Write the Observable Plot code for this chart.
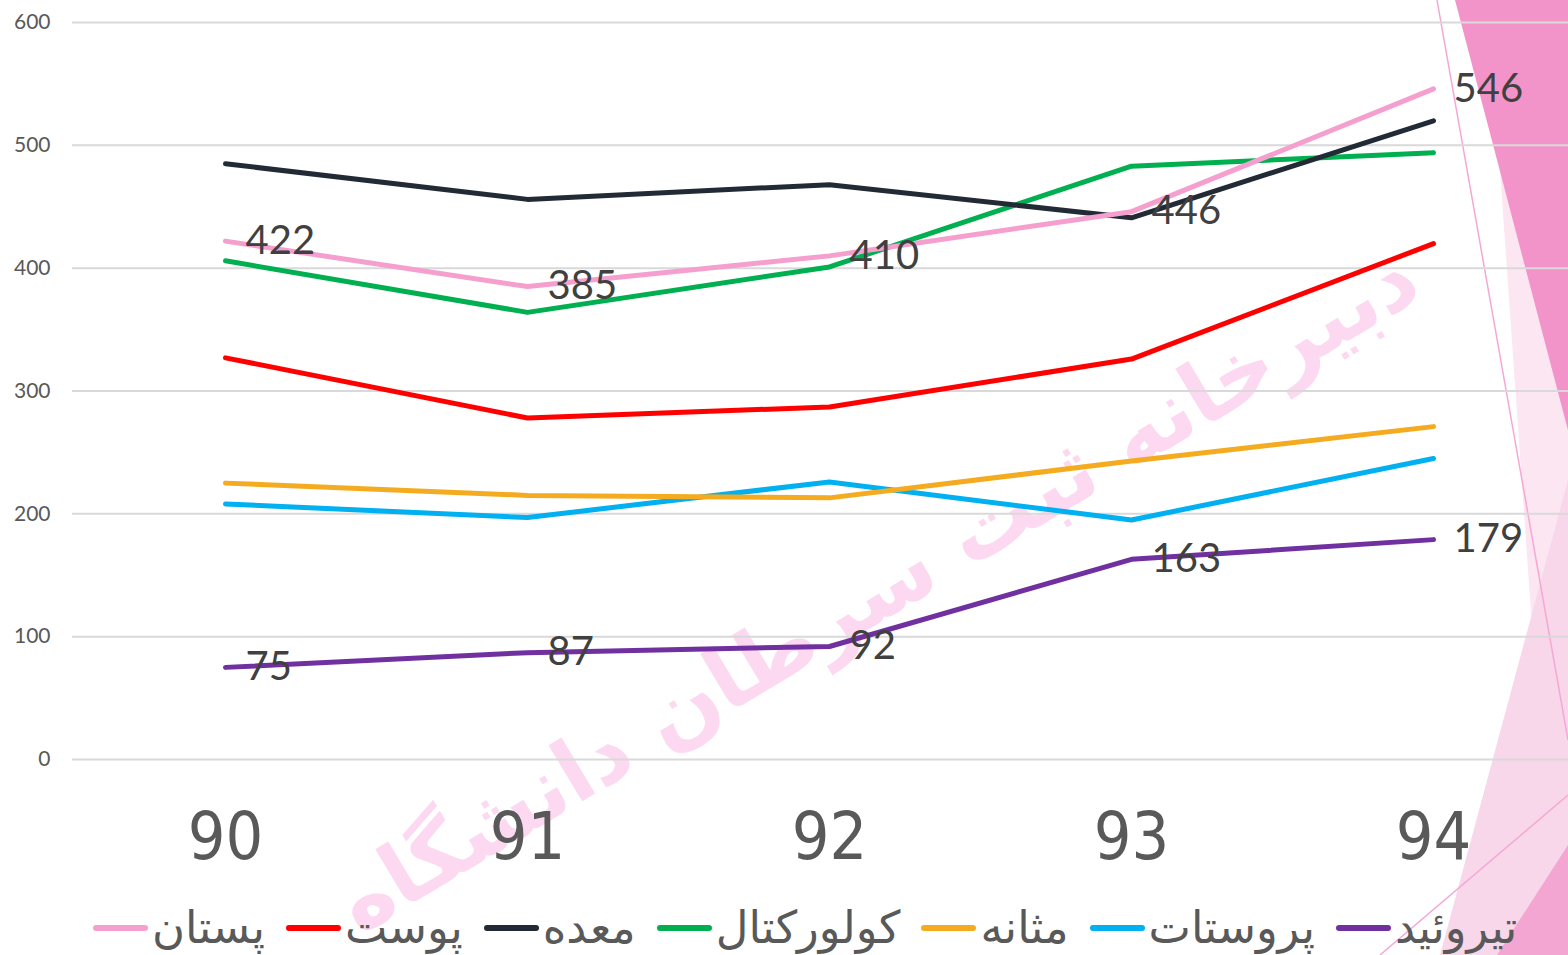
<!DOCTYPE html>
<html>
<head>
<meta charset="utf-8">
<script src="https://cdn.jsdelivr.net/npm/d3@7"></script>
<script src="https://cdn.jsdelivr.net/npm/@observablehq/plot@0.6"></script>
<style>
  body { margin: 0; background: #fff; }
  #wrap { position: relative; width: 1568px; height: 955px; overflow: hidden; background: #fff; }
  #deco, #chart, #legend { position: absolute; left: 0; top: 0; }
  #legend { top: 902px; left: 93px; height: 52px; line-height: 52px; display: flex; align-items: center;
            font-family: "DejaVu Sans", sans-serif; font-size: 45px; color: #595959; white-space: nowrap; }
  .item { display: flex; align-items: center; margin-right: 21px; }
  .sw { width: 55px; height: 6px; border-radius: 3px; margin-right: 4px; }
</style>
</head>
<body>
<div id="wrap">
  <svg id="deco" width="1568" height="955"></svg>
  <div id="chart"></div>
  <div id="legend"></div>
</div>
<script>
const years = ["90", "91", "92", "93", "94"];
const seriesNames = ["پستان", "پوست", "معده", "کولورکتال", "مثانه", "پروستات", "تیروئید"];
const seriesColors = ["#f59fcf", "#ff0000", "#222a35", "#00b050", "#f4ab1f", "#00b0f0", "#7030a0"];
const pestan = [422, 385, 410, 446, 546];
const poost = [327, 278, 287, 326, 420];
const meade = [485, 456, 468, 441, 520];
const colorectal = [406, 364, 401, 483, 494];
const masane = [225, 215, 213, 243, 271];
const prostate = [208, 197, 226, 195, 245];
const tiroid = [75, 87, 92, 163, 179];
const yTicks = [0, 100, 200, 300, 400, 500, 600];
const labeledSeries = ["پستان", "تیروئید"];
const watermark = "دبیرخانه ثبت سرطان دانشگاه";

const allValues = [pestan, poost, meade, colorectal, masane, prostate, tiroid];
const rows = [];
seriesNames.forEach((s, i) => years.forEach((yr, j) => rows.push({series: s, year: yr, value: allValues[i][j]})));
const drawOrder = ["تیروئید", "پروستات", "مثانه", "کولورکتال", "پوست", "معده", "پستان"];
const drawRows = drawOrder.flatMap(s => rows.filter(r => r.series === s));
const labelRows = rows.filter(r => labeledSeries.includes(r.series));

// decoration (background shapes + watermark)
const deco = d3.select("#deco");
deco.append("polygon").attr("points", "1500,170 1568,360 1568,955 1555,955").attr("fill", "#fbe6f2");
deco.append("polygon").attr("points", "1568,480 1568,955 1440,955").attr("fill", "#f8d7eb");
deco.append("polygon").attr("points", "1500,170 1568,380 1568,430").attr("fill", "#f6bfdf");
deco.append("polygon").attr("points", "1455,0 1568,0 1568,430").attr("fill", "#f294c9");
deco.append("polygon").attr("points", "1568,845 1568,955 1497,955").attr("fill", "#f3a6d2");
deco.append("line").attr("x1", 1437).attr("y1", 0).attr("x2", 1568).attr("y2", 740).attr("stroke", "#f5a8d4").attr("stroke-width", 1.5);
deco.append("line").attr("x1", 1380).attr("y1", 955).attr("x2", 1568).attr("y2", 795).attr("stroke", "#f5a8d4").attr("stroke-width", 1.5);
deco.append("text")
  .attr("x", 0).attr("y", 0)
  .attr("transform", "translate(880,595) rotate(-31)")
  .attr("text-anchor", "middle")
  .attr("dominant-baseline", "middle")
  .attr("direction", "rtl")
  .attr("font-family", "DejaVu Sans")
  .attr("font-weight", "bold")
  .attr("font-size", 86)
  .attr("fill", "#fcd9f1")
  .text(watermark);

const chart = Plot.plot({
  width: 1568,
  height: 880,
  marginLeft: 72,
  marginRight: 0,
  marginTop: 22,
  marginBottom: 121,
  style: {background: "transparent", overflow: "visible"},
  x: {type: "point", domain: years, range: [224, 1434], padding: 0},
  y: {domain: [0, 600]},
  color: {domain: seriesNames, range: seriesColors},
  marks: [
    Plot.gridY(yTicks, {stroke: "#d9d9d9", strokeOpacity: 1, strokeWidth: 2}),
    Plot.axisY(yTicks, {tickSize: 0, tickPadding: 22, fontSize: 21, color: "#595959", fontFamily: "Lato, 'Open Sans', sans-serif", label: null}),
    Plot.axisX({tickSize: 0, tickPadding: 53, fontSize: 66, color: "#595959", fontFamily: "'Liberation Sans Narrow', 'DejaVu Sans Condensed', sans-serif", label: null}),
    Plot.line(drawRows, {x: "year", y: "value", z: "series", stroke: "series", strokeWidth: 5, strokeLinecap: "round", strokeLinejoin: "round"}),
    Plot.text(labelRows, {x: "year", y: "value", text: d => String(d.value), textAnchor: "start", dx: 20, fontSize: 40, fill: "#404040", fontFamily: "Lato, 'Open Sans', sans-serif"})
  ]
});
document.getElementById("chart").appendChild(chart);

// legend
const legend = d3.select("#legend");
seriesNames.forEach((s, i) => {
  const it = legend.append("div").attr("class", "item");
  it.append("div").attr("class", "sw").style("background", seriesColors[i]);
  it.append("span").attr("dir", "rtl").text(s);
});
</script>
</body>
</html>
